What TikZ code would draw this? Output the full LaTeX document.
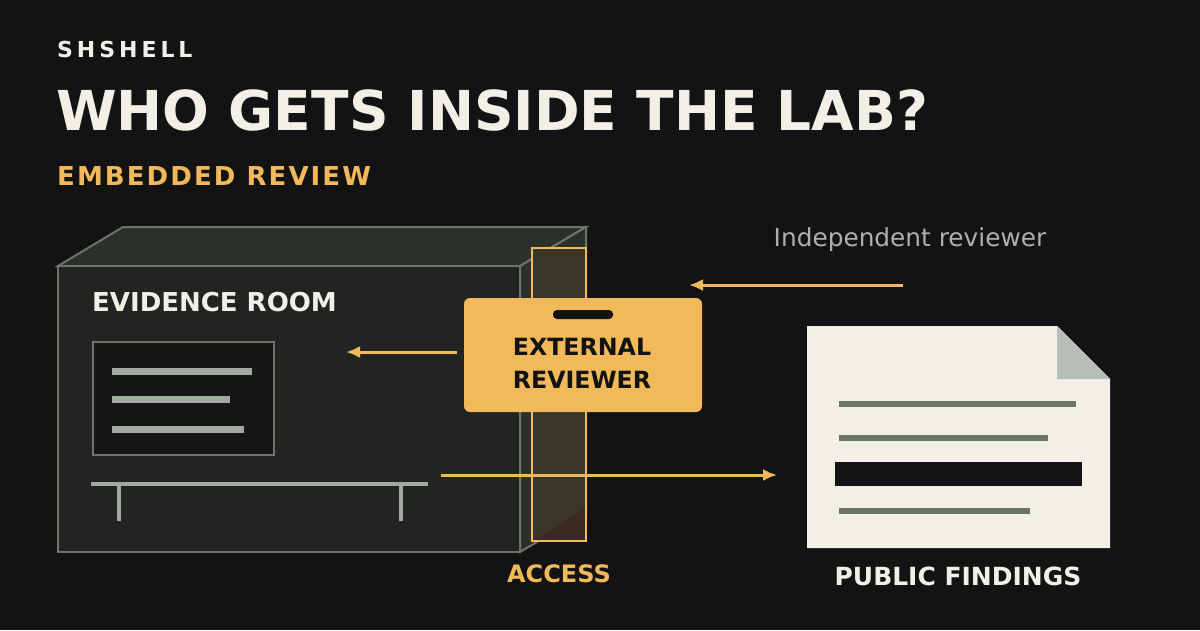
\documentclass[tikz,border=0pt]{standalone}
\usepackage{fontspec}
\setmainfont{DejaVu Sans}
\usetikzlibrary{arrows.meta}
\definecolor{bg}{HTML}{121312}
\definecolor{orng}{HTML}{F2B95B}
\definecolor{cream}{HTML}{F2EFE6}
\definecolor{edge}{HTML}{6E746C}
\definecolor{face}{HTML}{212421}
\definecolor{topf}{HTML}{2C302B}
\definecolor{linec}{HTML}{A3AAA1}
\definecolor{docl}{HTML}{6B7469}
\definecolor{barf}{HTML}{3A3729}
\definecolor{barb}{HTML}{3A2A20}
\definecolor{fold}{HTML}{B9BDB7}
\begin{document}
\begin{tikzpicture}[x=1pt,y=-1pt,
  hd/.style={anchor=base west,inner sep=0,font=\bfseries},
  arr/.style={draw=orng,line width=3pt,-{Latex[length=14pt,width=12pt]}},
  scr/.style={draw=linec,line width=7pt},
  dl/.style={draw=docl,line width=6pt}]
\fill[bg] (0,0) rectangle (1200,630);
\useasboundingbox (0,0) rectangle (1200,630);
\node[hd,text=cream,font=\bfseries\fontsize{22}{24}\selectfont\addfontfeatures{LetterSpace=18}] (brand) at (57,57) {SHSHELL};
\node[hd,text=cream,font=\bfseries\fontsize{55}{60}\selectfont] (title) at (56,130) {WHO GETS INSIDE THE LAB?};
\node[hd,text=orng,font=\bfseries\fontsize{26}{28}\selectfont\addfontfeatures{LetterSpace=8}] (sub) at (57,185) {EMBEDDED REVIEW};
% box
\filldraw[fill=topf,draw=edge,line width=2pt] (58,266) -- (123,227) -- (586,227) -- (520,266) -- cycle;
\filldraw[fill=topf,draw=edge,line width=2pt] (520,266) -- (586,227) -- (586,513) -- (520,552) -- cycle;
\filldraw[fill=face,draw=edge,line width=2pt] (58,266) rectangle (520,552);
\fill[barf] (532,248) rectangle (586,541);
\fill[barb] (532,541) -- (586,541) -- (586,508) -- cycle;
\draw[orng,line width=2pt] (532,248) rectangle (586,541);
\node[hd,text=cream,font=\bfseries\fontsize{26}{28}\selectfont] (room) at (92,311) {EVIDENCE ROOM};
\filldraw[fill=bg!80!face,draw=edge,line width=2pt] (93,342) rectangle (274,455);
\draw[scr] (112,371) -- (252,371);
\draw[scr] (112,399) -- (230,399);
\draw[scr] (112,429) -- (244,429);
\draw[linec,line width=4.5pt] (91,484) -- (428,484);
\draw[linec,line width=3.5pt] (119,484) -- (119,521) (401,484) -- (401,521);
% card
\fill[orng,rounded corners=6pt] (464,298) rectangle (702,412);
\fill[bg,rounded corners=4pt] (553,310) rectangle (613,319);
\node[font=\bfseries\fontsize{23.7}{33}\selectfont,text=bg,align=center] (card) at (582,363) {EXTERNAL\\REVIEWER};
\node[hd,anchor=base,text=orng,font=\bfseries\fontsize{24}{26}\selectfont] (access) at (559,582) {ACCESS};
% doc
\fill[cream] (807,326) -- (1057,326) -- (1110,379) -- (1110,548) -- (807,548) -- cycle;
\fill[fold] (1057,326) -- (1110,379) -- (1057,379) -- cycle;
\draw[dl] (839,404) -- (1076,404);
\draw[dl] (839,438) -- (1048,438);
\fill[bg] (835,462) rectangle (1082,486);
\draw[dl] (839,511) -- (1030,511);
\node[hd,anchor=base,text=cream,font=\bfseries\fontsize{25}{27}\selectfont] (pub) at (958,585) {PUBLIC FINDINGS};
\node[hd,anchor=base,text=linec!90!white,font=\fontsize{24.8}{26}\selectfont] (ind) at (910,246) {Independent reviewer};
% arrows
\coordinate (a1) at (457,352); \coordinate (b1) at (346,352);
\coordinate (a2) at (441,475); \coordinate (b2) at (777,475);
\coordinate (a3) at (903,285); \coordinate (b3) at (689,285);
\draw[arr] (a1) -- (b1);
\draw[arr] (a2) -- (b2);
\draw[arr] (a3) -- (b3);
\end{tikzpicture}
\end{document}
